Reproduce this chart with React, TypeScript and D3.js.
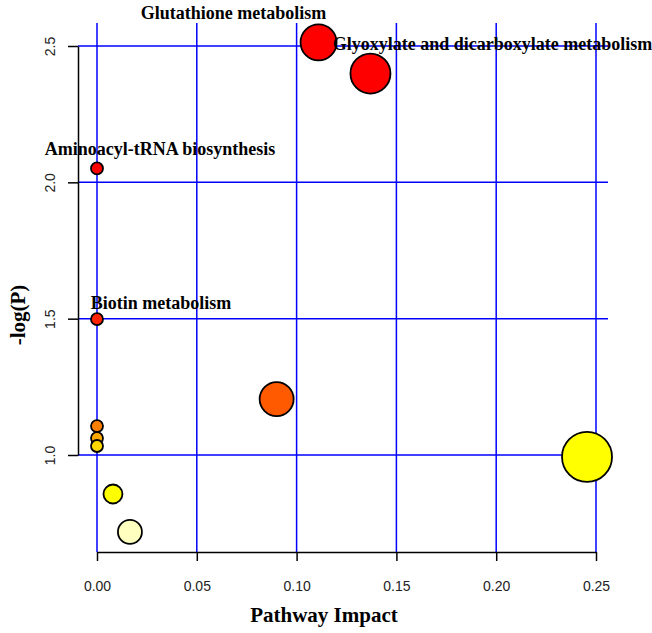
import React, { useEffect, useRef } from "react";
import * as d3 from "d3";

// pathway impact (x) and -log(P) (y) for each pathway
const impact = [0.111, 0.137, 0, 0, 0.09, 0, 0, 0, 0.008, 0.0165, 0.2455];
const logP = [2.513, 2.399, 2.051, 1.498, 1.205, 1.106, 1.062, 1.033, 0.857, 0.718, 0.993];
const nodeSize = [18, 20, 6, 6, 17, 6, 6, 6, 9.5, 12, 25];
const nodeColor = [
  "#ff0000", "#ff0000", "#ff0000", "#ff2400", "#ff5a00",
  "#ff8000", "#ffa800", "#ffd800", "#ffff00", "#ffffbf", "#ffff00",
];
const pathwayNames = [
  "Glutathione metabolism",
  "Glyoxylate and dicarboxylate metabolism",
  "Aminoacyl-tRNA biosynthesis",
  "Biotin metabolism",
  "", "", "", "", "", "", "",
];
const xTicks = [0, 0.05, 0.1, 0.15, 0.2, 0.25];
const yTicks = [1.0, 1.5, 2.0, 2.5];

// label offsets from the point (layout only)
const labelOffset = [
  [-85, -23],
  [122, -24],
  [63, -13],
  [64, -10],
];

export default function App() {
  const ref = useRef(null);

  useEffect(() => {
    const width = 652;
    const height = 633;
    const plot = { left: 78, right: 608, top: 23, bottom: 552 };

    const root = d3.select(ref.current);
    root.selectAll("*").remove();

    const svg = root
      .append("svg")
      .attr("width", width)
      .attr("height", height)
      .style("position", "absolute")
      .style("left", 0)
      .style("top", 0)
      .style("background", "#fff");

    const x = d3.scaleLinear().domain([0, 0.25]).range([97, 596]);
    const y = d3.scaleLinear().domain([1, 2.5]).range([455, 46]);
    const r = d3.scaleLinear().domain([0, 1]).range([0, 1]);

    // grid
    const grid = svg.append("g").attr("stroke", "#0000ff").attr("stroke-width", 1.5);
    grid
      .selectAll("line.v")
      .data(xTicks)
      .join("line")
      .attr("class", "v")
      .attr("x1", (d) => x(d))
      .attr("x2", (d) => x(d))
      .attr("y1", plot.top)
      .attr("y2", plot.bottom);
    grid
      .selectAll("line.h")
      .data(yTicks)
      .join("line")
      .attr("class", "h")
      .attr("x1", plot.left)
      .attr("x2", plot.right)
      .attr("y1", (d) => y(d))
      .attr("y2", (d) => y(d));

    // axes
    const xAxisG = svg
      .append("g")
      .attr("transform", `translate(0, ${plot.bottom})`)
      .call(
        d3.axisBottom(x).tickValues(xTicks).tickSize(9).tickSizeOuter(0).tickPadding(20)
          .tickFormat(d3.format(".2f"))
      );
    const yAxisG = svg
      .append("g")
      .attr("transform", `translate(${plot.left}, 0)`)
      .call(
        d3.axisLeft(y).tickValues(yTicks).tickSize(10).tickSizeOuter(0)
          .tickFormat(d3.format(".1f"))
      );
    [xAxisG, yAxisG].forEach((g) => {
      g.select(".domain").attr("stroke", "#000").attr("stroke-width", 1.5);
      g.selectAll(".tick line").attr("stroke", "#000").attr("stroke-width", 1.5);
      g.selectAll("text")
        .attr("fill", "#222")
        .style("font-family", "Liberation Sans, Arial, sans-serif")
        .style("font-size", "14px");
    });
    yAxisG
      .selectAll(".tick text")
      .attr("x", null)
      .attr("dy", null)
      .attr("transform", "translate(-28, 0) rotate(-90)")
      .attr("text-anchor", "middle")
      .attr("dominant-baseline", "central");

    // points
    const idx = d3.range(impact.length);
    svg
      .append("g")
      .selectAll("circle")
      .data(idx)
      .join("circle")
      .attr("cx", (i) => x(impact[i]))
      .attr("cy", (i) => y(logP[i]))
      .attr("r", (i) => r(nodeSize[i]))
      .attr("fill", (i) => nodeColor[i])
      .attr("stroke", "#000")
      .attr("stroke-width", 1.8);

    // labels
    svg
      .append("g")
      .selectAll("text")
      .data(idx.filter((i) => pathwayNames[i]))
      .join("text")
      .attr("x", (i) => x(impact[i]) + labelOffset[i][0])
      .attr("y", (i) => y(logP[i]) + labelOffset[i][1])
      .attr("text-anchor", "middle")
      .style("font-family", "Liberation Serif, Times New Roman, serif")
      .style("font-weight", "bold")
      .style("font-size", "18px")
      .text((i) => pathwayNames[i]);

    // axis titles
    svg
      .append("text")
      .attr("x", 324)
      .attr("y", 622)
      .attr("text-anchor", "middle")
      .style("font-family", "Liberation Serif, Times New Roman, serif")
      .style("font-weight", "bold")
      .style("font-size", "21px")
      .text("Pathway Impact");
    svg
      .append("text")
      .attr("transform", "translate(25, 315) rotate(-90)")
      .attr("text-anchor", "middle")
      .style("font-family", "Liberation Serif, Times New Roman, serif")
      .style("font-weight", "bold")
      .style("font-size", "21px")
      .text("-log(P)");
  }, []);

  return <div ref={ref}></div>;
}
